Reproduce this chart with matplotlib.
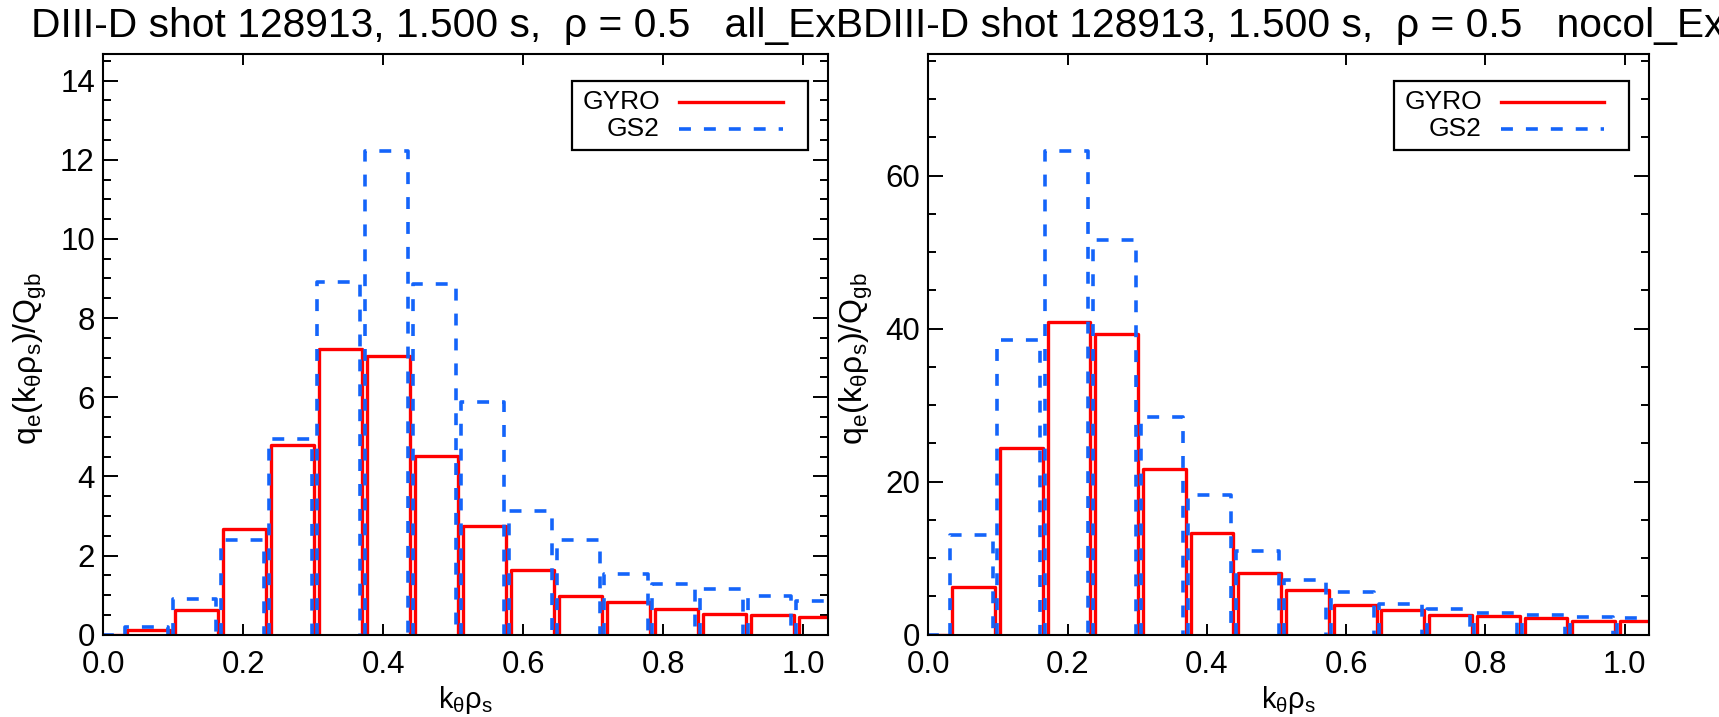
import matplotlib
matplotlib.use("Agg")
import matplotlib.pyplot as plt
from matplotlib.ticker import MultipleLocator, AutoMinorLocator
from matplotlib.patches import Rectangle

plt.rcParams['font.family'] = ['Liberation Sans', 'DejaVu Sans']
plt.rcParams['mathtext.fontset'] = 'custom'
plt.rcParams['mathtext.rm'] = 'Liberation Sans'
plt.rcParams['mathtext.it'] = 'Liberation Sans'
plt.rcParams['mathtext.default'] = 'regular'

# k_theta rho_s grid (bin centres)
ky = [0.0, 0.0685, 0.137, 0.2055, 0.274, 0.3425, 0.411, 0.4795,
      0.548, 0.6165, 0.685, 0.7535, 0.822, 0.8905, 0.959, 1.0275]

# all_ExB case
gyro_all = [0.0, 0.12, 0.62, 2.67, 4.8, 7.22, 7.05, 4.52,
            2.75, 1.63, 0.99, 0.82, 0.65, 0.52, 0.50, 0.45]
gs2_all = [0.0, 0.2, 0.91, 2.4, 4.95, 8.9, 12.22, 8.85,
           5.87, 3.12, 2.4, 1.54, 1.29, 1.16, 0.99, 0.84]

# nocol_ExB case
gyro_nocol = [0.0, 6.2, 24.4, 40.8, 39.3, 21.6, 13.3, 8.0,
              5.8, 3.93, 3.28, 2.58, 2.4, 2.14, 1.83, 1.75]
gs2_nocol = [0.0, 13.0, 38.5, 63.2, 51.6, 28.5, 18.3, 10.9,
             7.1, 5.55, 4.06, 3.36, 2.84, 2.53, 2.27, 2.18]

titles = ["DIII-D shot 128913, 1.500 s,  \u03c1 = 0.5   all_ExB",
          "DIII-D shot 128913, 1.500 s,  \u03c1 = 0.5   nocol_ExB"]
legend_names = ["GYRO", "GS2"]

RED = '#ff0000'
BLUE = '#1464fa'
DK = 0.0685


def draw_bars(ax, k, vals, color, shift, **kw):
    h = DK / 2
    for c, v in zip(k, vals):
        x0 = c - h + shift
        x1 = c + h - 0.007 + shift
        ax.plot([x0, x0, x1, x1], [0, v, v, 0], color=color, **kw)


def draw_legend(ax):
    ax.add_patch(Rectangle((0.6463, 0.8351), 0.3264, 0.1194, transform=ax.transAxes,
                           fill=False, edgecolor='black', linewidth=1.6, zorder=5))
    rows = [0.9183, 0.8713]
    ax.text(0.768, rows[0], legend_names[0], transform=ax.transAxes, ha='right',
            va='center', fontsize=19, zorder=6)
    ax.text(0.768, rows[1], legend_names[1], transform=ax.transAxes, ha='right',
            va='center', fontsize=19, zorder=6)
    ax.plot([0.7942, 0.9377], [rows[0], rows[0]], transform=ax.transAxes,
            color=RED, linewidth=2.4, zorder=6)
    ax.plot([0.7942, 0.9377], [rows[1], rows[1]], transform=ax.transAxes,
            color=BLUE, linewidth=2.6, linestyle=(0, (3.3, 3.6)), zorder=6)


def setup_axes(ax, ymax, ymajor):
    ax.set_xlim(0, 1.035)
    ax.set_ylim(0, ymax)
    ax.xaxis.set_major_locator(MultipleLocator(0.2))
    ax.yaxis.set_major_locator(MultipleLocator(ymajor))
    ax.yaxis.set_minor_locator(AutoMinorLocator(4))
    ax.tick_params(axis='both', which='both', direction='in', top=True, right=True,
                   width=1.4, labelsize=22.5)
    ax.tick_params(axis='x', which='major', length=8, pad=11)
    ax.tick_params(axis='y', which='major', length=11, pad=6)
    ax.tick_params(axis='y', which='minor', length=6)
    ax.xaxis.set_major_formatter(plt.FuncFormatter(lambda v, p: "%.1f" % v))
    for sp in ax.spines.values():
        sp.set_linewidth(1.5)
    ax.text(0.5, -0.113, r'$k_\theta\rho_s$', transform=ax.transAxes,
            ha='center', va='center', fontsize=21)
    ax.text(-0.1, 0.475, r'$q_e(k_\theta\rho_s)/Q_{gb}$', transform=ax.transAxes,
            ha='center', va='center', rotation=90, fontsize=23)


fig = plt.figure(figsize=(17.19, 7.17), dpi=100)
ax1 = fig.add_axes([103.3 / 1719, 82.3 / 717, 724.7 / 1719, 580.4 / 717])
ax2 = fig.add_axes([928.3 / 1719, 82.3 / 717, 720.7 / 1719, 580.4 / 717])

for ax, gy, gs, title_x, ttl, ymajor in [(ax1, gyro_all, gs2_all, 31, titles[0], 2),
                                          (ax2, gyro_nocol, gs2_nocol, 863, titles[1], 20)]:
    draw_bars(ax, ky, gy, RED, 0.0, linewidth=2.4)
    draw_bars(ax, ky, gs, BLUE, -0.0035, linewidth=2.6, linestyle=(0, (3.3, 3.6)))
    setup_axes(ax, 1.2 * max(gs), ymajor)
    draw_legend(ax)
    fig.text(title_x / 1719, 1 - 37 / 717, ttl, ha='left', va='baseline', fontsize=29.3)

fig.savefig('out.png', dpi=100)
